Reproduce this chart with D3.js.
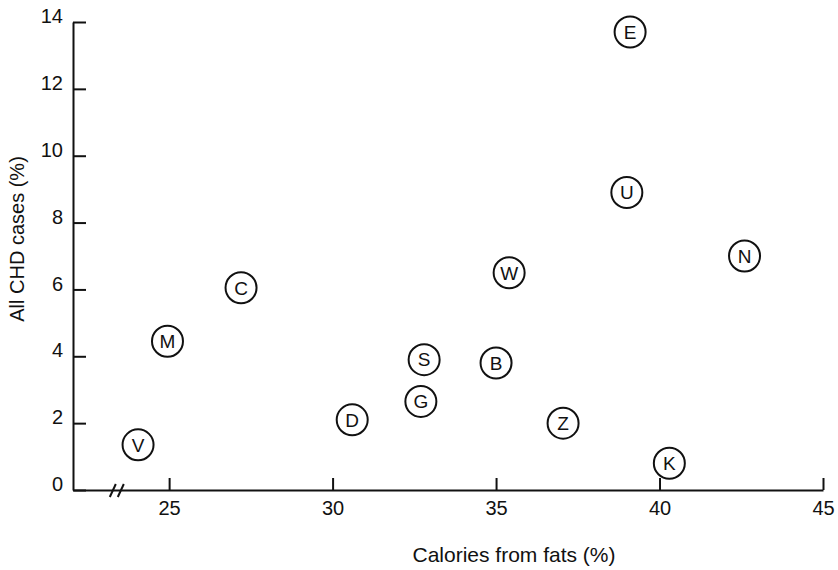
<!DOCTYPE html>
<meta charset="utf-8">
<script src="https://d3js.org/d3.v7.min.js"></script>
<style>
  body { margin: 0; background: #fff; }
  text { font-family: "Liberation Sans", Arial, sans-serif; fill: #111; }
</style>
<div id="graph"></div>
<script>
    // countries (letter codes) and their values
    var codes  = ["E", "U", "N", "W", "C", "M", "S", "B", "G", "D", "Z", "V", "K"];
    var fats   = [39.1, 39.0, 42.6, 35.4, 27.2, 24.95, 32.8, 35.0, 32.7, 30.6, 37.05, 24.05, 40.3];
    var chd    = [13.7, 8.9, 7.0, 6.5, 6.05, 4.45, 3.9, 3.8, 2.65, 2.1, 2.0, 1.35, 0.8];
    var xTicks = [25, 30, 35, 40, 45];
    var yTicks = [0, 2, 4, 6, 8, 10, 12, 14];

    var width = 838, height = 570;

    var svg = d3.select("#graph")
        .append("svg")
        .attr("width", width)
        .attr("height", height);

    var x = d3.scaleLinear().domain([22.06, 45]).range([73, 823]);
    var y = d3.scaleLinear().domain([0, 14]).range([490, 22]);

    // y axis, ticks pointing inward
    var yAxis = svg.append("g")
        .attr("transform", "translate(" + x.range()[0] + ",0)")
        .call(d3.axisLeft(y).tickValues(yTicks).tickSizeInner(-13).tickSizeOuter(0).tickPadding(10));

    yAxis.attr("font-size", 20);
    yAxis.selectAll("text").attr("dy", "0.03em");

    // x axis
    var xAxis = svg.append("g")
        .attr("transform", "translate(0," + y(0) + ")")
        .call(d3.axisBottom(x).tickValues(xTicks).tickSizeInner(-12).tickSizeOuter(0).tickPadding(11));

    xAxis.attr("font-size", 20);

    svg.selectAll(".domain, .tick line")
        .attr("stroke", "#111")
        .attr("stroke-width", 2);

    // axis break marks
    var breakAt = x(23.4);
    svg.selectAll("path.brk")
        .data([-4, 4])
        .enter()
        .append("line")
        .attr("x1", function (d) { return breakAt + d - 3; })
        .attr("x2", function (d) { return breakAt + d + 3; })
        .attr("y1", y(0) + 7)
        .attr("y2", y(0) - 6)
        .attr("stroke", "#111")
        .attr("stroke-width", 2);

    // points
    var pts = svg.selectAll("g.pt")
        .data(codes)
        .enter()
        .append("g")
        .attr("transform", function (d, i) { return "translate(" + x(fats[i]) + "," + y(chd[i]) + ")"; });

    pts.append("circle")
        .attr("r", 15.5)
        .attr("fill", "#fff")
        .attr("stroke", "#111")
        .attr("stroke-width", 2);

    pts.append("text")
        .attr("text-anchor", "middle")
        .attr("dy", "0.36em")
        .style("font-size", "19px")
        .text(function (d) { return d; });

    // axis titles
    svg.append("text")
        .attr("x", 514)
        .attr("y", 562)
        .attr("text-anchor", "middle")
        .style("font-size", "21px")
        .text("Calories from fats (%)");

    svg.append("text")
        .attr("transform", "translate(24,239) rotate(-90)")
        .attr("text-anchor", "middle")
        .style("font-size", "20px")
        .text("All CHD cases (%)");
</script>
